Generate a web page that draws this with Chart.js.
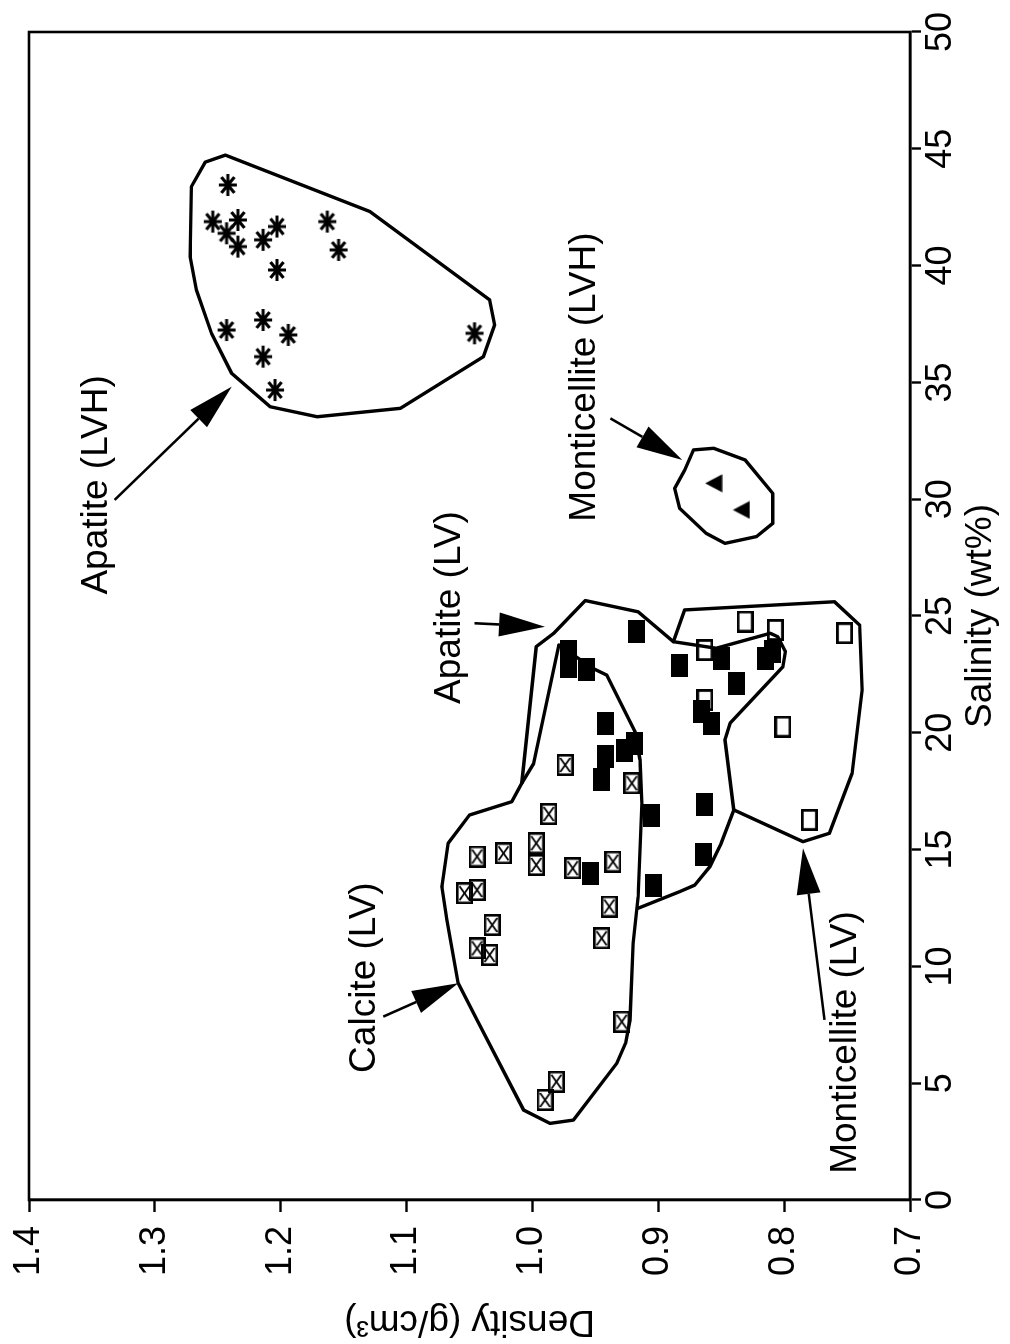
<!DOCTYPE html>
<html><head><meta charset="utf-8">
<script src="https://cdn.jsdelivr.net/npm/chart.js@4/dist/chart.umd.min.js"></script>
<style>
html,body{margin:0;padding:0;background:#fff;overflow:hidden;width:1010px;height:1344px;}
#wrap{position:absolute;left:0;top:0;width:1344px;height:1010px;transform-origin:0 0;transform:translateY(1344px) rotate(-90deg);background:#fff;}
canvas{display:block;}
</style></head><body>
<div id="wrap"><canvas id="c" width="1344" height="1010"></canvas></div>
<script>
// ---- tick values ----
const salinityTickValues = [0, 5, 10, 15, 20, 25, 30, 35, 40, 45, 50];
const densityTickValues = [0.7, 0.8, 0.9, 1.0, 1.1, 1.2, 1.3, 1.4];

// ---- inclusion data (salinity wt%, density g/cm3) ----
const apatiteLVHSalinity = [43.45, 41.88, 41.95, 41.38, 40.81, 41.10, 41.67, 41.88, 40.67, 39.81, 37.24, 37.67, 37.03, 36.10, 34.67, 37.10];
const apatiteLVHDensity  = [1.242, 1.254, 1.234, 1.243, 1.234, 1.214, 1.203, 1.163, 1.154, 1.203, 1.243, 1.214, 1.194, 1.214, 1.2045, 1.046];

const monticelliteLVHSalinity = [30.68, 29.54];
const monticelliteLVHDensity  = [0.856, 0.834];

const apatiteLVSalinity = [24.32, 23.46, 22.82, 22.69, 22.90, 23.19, 22.12, 23.19, 23.47, 20.90, 20.41, 20.41, 18.98, 19.26, 19.55, 17.98, 16.48, 16.91, 14.77, 13.99, 13.48];
const apatiteLVDensity  = [0.917, 0.9715, 0.9715, 0.957, 0.883, 0.850, 0.838, 0.815, 0.809, 0.866, 0.858, 0.942, 0.942, 0.927, 0.919, 0.945, 0.905, 0.863, 0.864, 0.954, 0.904];

const monticelliteLVSalinity = [24.76, 24.40, 24.26, 23.54, 21.40, 20.26, 16.27];
const monticelliteLVDensity  = [0.831, 0.807, 0.752, 0.863, 0.863, 0.801, 0.780];

const calciteLVSalinity = [18.62, 17.84, 16.52, 15.27, 14.34, 14.70, 14.84, 14.20, 14.48, 13.13, 13.27, 12.56, 11.20, 11.77, 10.77, 10.49, 7.63, 5.06, 4.28];
const calciteLVDensity  = [0.974, 0.921, 0.987, 0.997, 0.997, 1.044, 1.023, 0.968, 0.936, 1.054, 1.044, 0.939, 0.945, 1.032, 1.044, 1.034, 0.929, 0.981, 0.990];

// ---- field outlines ----
const apatiteLVHOutlineSal = [44.73, 44.43, 43.38, 40.38, 38.96, 37.10, 35.39, 33.96, 33.53, 33.89, 36.10, 37.46, 38.53, 42.31, 44.73];
const apatiteLVHOutlineDen = [1.244, 1.260, 1.271, 1.272, 1.267, 1.255, 1.239, 1.2085, 1.171, 1.105, 1.039, 1.030, 1.034, 1.129, 1.244];

const monticelliteLVHOutlineSal = [32.11, 32.18, 31.68, 30.25, 28.97, 28.40, 28.11, 28.54, 29.61, 30.47, 31.25, 32.11];
const monticelliteLVHOutlineDen = [0.872, 0.856, 0.831, 0.809, 0.809, 0.822, 0.847, 0.862, 0.883, 0.887, 0.879, 0.872];

const calciteOutlineSal = [23.76, 22.76, 22.47, 20.05, 18.84, 16.98, 12.98, 10.99, 7.71, 6.71, 5.85, 3.42, 3.28, 3.85, 7.71, 9.28, 11.99, 13.41, 15.27, 16.48, 17.05, 17.84, 18.69, 23.76];
const calciteOutlineDen = [0.979, 0.952, 0.941, 0.9185, 0.9145, 0.913, 0.916, 0.920, 0.9225, 0.926, 0.933, 0.9675, 0.986, 1.007, 1.044, 1.059, 1.068, 1.072, 1.067, 1.050, 1.0165, 1.0085, 0.999, 0.979];

const apatiteLVOutlineSal = [17.84, 23.69, 24.26, 25.66, 25.18, 23.90, 23.62, 24.26, 24.11, 23.47, 22.83, 20.41, 19.69, 16.70, 15.27, 14.27, 13.48, 13.20, 12.49];
const apatiteLVOutlineDen = [1.0085, 0.997, 0.983, 0.958, 0.916, 0.888, 0.854, 0.811, 0.805, 0.799, 0.801, 0.843, 0.847, 0.840, 0.850, 0.859, 0.871, 0.883, 0.916];

const monticelliteLVOutlineSal = [23.90, 25.26, 25.61, 24.61, 21.83, 18.27, 15.70, 15.34, 16.70];
const monticelliteLVOutlineDen = [0.888, 0.879, 0.760, 0.740, 0.738, 0.746, 0.764, 0.785, 0.840];

// ---- labels and arrows ----
const labelTexts = ['Apatite (LVH)', 'Monticellite (LVH)', 'Apatite (LV)', 'Calcite (LV)', 'Monticellite (LV)'];
const labelSalinity = [30.61, 35.23, 25.36, 9.52, 6.74];
const labelDensity  = [1.346, 0.958, 1.066, 1.133, 0.751];
const arrowFromSal = [29.97, 33.46, 24.69, 7.85, 7.71];
const arrowFromDen = [1.332, 0.938, 1.046, 1.1185, 0.768];
const arrowToSal   = [34.82, 31.68, 24.54, 9.28, 15.06];
const arrowToDen   = [1.239, 0.881, 0.990, 1.059, 0.785];

// ---- helpers ----
function pts(xs, ys) { return xs.map((x, i) => ({ x: x, y: ys[i] })); }
function marker(w, h, draw) {
  const c = document.createElement('canvas');
  c.width = w; c.height = h;
  const g = c.getContext('2d');
  g.strokeStyle = '#000'; g.fillStyle = '#000';
  draw(g, w, h);
  return c;
}
const boxX = marker(22, 17, (g, w, h) => {
  g.lineWidth = 2.6; g.strokeRect(1.3, 1.3, w - 2.6, h - 2.6);
  g.lineWidth = 1.7; g.beginPath();
  g.moveTo(4, 3.5); g.lineTo(w - 4, h - 3.5);
  g.moveTo(w - 4, 3.5); g.lineTo(4, h - 3.5); g.stroke();
});
const boxFilled = marker(23, 17, (g, w, h) => { g.fillRect(0, 0, w, h); });
const boxOpen = marker(22, 17, (g, w, h) => { g.lineWidth = 2.8; g.strokeRect(1.4, 1.4, w - 2.8, h - 2.8); });
const asterisk = marker(24, 20, (g, w, h) => {
  const cx = w / 2, cy = h / 2, rx = 11, ry = 9;
  g.lineWidth = 3; g.lineCap = 'butt'; g.beginPath();
  g.moveTo(cx - rx, cy); g.lineTo(cx + rx, cy);
  g.moveTo(cx, cy - ry); g.lineTo(cx, cy + ry);
  g.moveTo(cx - rx * 0.72, cy - ry * 0.72); g.lineTo(cx + rx * 0.72, cy + ry * 0.72);
  g.moveTo(cx + rx * 0.72, cy - ry * 0.72); g.lineTo(cx - rx * 0.72, cy + ry * 0.72);
  g.stroke();
});
const triangle = marker(19, 18, (g, w, h) => {
  g.beginPath(); g.moveTo(w / 2, 0.5); g.lineTo(w - 0.5, h - 0.5); g.lineTo(0.5, h - 0.5); g.closePath(); g.fill();
});

function pointSet(label, xs, ys, style) {
  return { type: 'scatter', label: label, data: pts(xs, ys), pointStyle: style, pointRadius: 10, order: 0,
    borderColor: '#000', backgroundColor: '#000' };
}
function outline(label, xs, ys) {
  return { type: 'line', label: label, data: pts(xs, ys), showLine: true, borderColor: '#000', borderWidth: 3.4,
    pointRadius: 0, tension: 0, fill: false, order: 1, borderJoinStyle: 'round', borderCapStyle: 'round' };
}

const FONT = "'Liberation Sans', Arial, Helvetica, sans-serif";

const framePlugin = {
  id: 'frame',
  afterDraw(chart) {
    const a = chart.chartArea, g = chart.ctx;
    g.save(); g.strokeStyle = '#000'; g.lineWidth = 2.6;
    g.strokeRect(a.left, a.top, a.right - a.left, a.bottom - a.top);
    g.restore();
  }
};
const annotationPlugin = {
  id: 'annot',
  afterDatasetsDraw(chart) {
    const g = chart.ctx, xs = chart.scales.x, ys = chart.scales.y;
    g.save();
    g.fillStyle = '#000'; g.strokeStyle = '#000';
    g.font = '37px ' + FONT; g.textAlign = 'center'; g.textBaseline = 'middle';
    labelTexts.forEach((t, i) => {
      g.fillText(t, xs.getPixelForValue(labelSalinity[i]), ys.getPixelForValue(labelDensity[i]));
    });
    arrowFromSal.forEach((_, i) => {
      const x0 = xs.getPixelForValue(arrowFromSal[i]), y0 = ys.getPixelForValue(arrowFromDen[i]);
      const x1 = xs.getPixelForValue(arrowToSal[i]), y1 = ys.getPixelForValue(arrowToDen[i]);
      const dx = x1 - x0, dy = y1 - y0, len = Math.hypot(dx, dy), ux = dx / len, uy = dy / len;
      const L = 46, W = 12;
      const bx = x1 - ux * L, by = y1 - uy * L;
      g.lineWidth = 2.6; g.beginPath(); g.moveTo(x0, y0); g.lineTo(bx, by); g.stroke();
      g.beginPath(); g.moveTo(x1, y1); g.lineTo(bx - uy * W, by + ux * W); g.lineTo(bx + uy * W, by - ux * W); g.closePath(); g.fill();
    });
    g.restore();
  }
};

new Chart(document.getElementById('c'), {
  type: 'scatter',
  data: {
    datasets: [
      pointSet('Apatite (LVH)', apatiteLVHSalinity, apatiteLVHDensity, asterisk),
      pointSet('Monticellite (LVH)', monticelliteLVHSalinity, monticelliteLVHDensity, triangle),
      pointSet('Apatite (LV)', apatiteLVSalinity, apatiteLVDensity, boxFilled),
      pointSet('Monticellite (LV)', monticelliteLVSalinity, monticelliteLVDensity, boxOpen),
      pointSet('Calcite (LV)', calciteLVSalinity, calciteLVDensity, boxX),
      outline('Apatite (LVH) field', apatiteLVHOutlineSal, apatiteLVHOutlineDen),
      outline('Monticellite (LVH) field', monticelliteLVHOutlineSal, monticelliteLVHOutlineDen),
      outline('Calcite (LV) field', calciteOutlineSal, calciteOutlineDen),
      outline('Apatite (LV) field', apatiteLVOutlineSal, apatiteLVOutlineDen),
      outline('Monticellite (LV) field', monticelliteLVOutlineSal, monticelliteLVOutlineDen)
    ]
  },
  options: {
    responsive: false, animation: false, devicePixelRatio: 1,
    layout: { padding: { left: 0, top: 29, right: 32, bottom: 0 } },
    plugins: { legend: { display: false }, tooltip: { enabled: false } },
    scales: {
      x: {
        type: 'linear', position: 'bottom', min: 0, max: 50,
        afterBuildTicks: s => { s.ticks = salinityTickValues.map(v => ({ value: v })); },
        afterFit: s => { s.height = 100; s.paddingLeft = 0; s.paddingRight = 0; },
        ticks: { color: '#000', font: { family: FONT, size: 36 }, padding: -2, maxRotation: 0, minRotation: 0,
          callback: v => String(v) },
        grid: { drawOnChartArea: false, drawTicks: true, tickLength: 11, tickColor: '#000', tickWidth: 2.4 },
        border: { display: true, color: '#000', width: 2.6 },
        title: { display: true, text: 'Salinity (wt%)', color: '#000', font: { family: FONT, size: 37 }, padding: { top: 0, bottom: 7 } }
      },
      y: {
        type: 'linear', position: 'left', min: 0.7, max: 1.4,
        afterBuildTicks: s => { s.ticks = densityTickValues.map(v => ({ value: v })); },
        afterFit: s => { s.width = 144; s.paddingTop = 0; s.paddingBottom = 0; },
        ticks: { color: '#000', font: { family: FONT, size: 36 }, padding: 14,
          callback: v => Number(v).toFixed(1) },
        grid: { drawOnChartArea: false, drawTicks: true, tickLength: 12, tickColor: '#000', tickWidth: 2.4 },
        border: { display: true, color: '#000', width: 2.6 },
        title: { display: true, text: 'Density (g/cm³)', color: '#000', font: { family: FONT, size: 37 }, padding: { top: 1, bottom: 0 } }
      }
    }
  },
  plugins: [framePlugin, annotationPlugin]
});
</script></body></html>
